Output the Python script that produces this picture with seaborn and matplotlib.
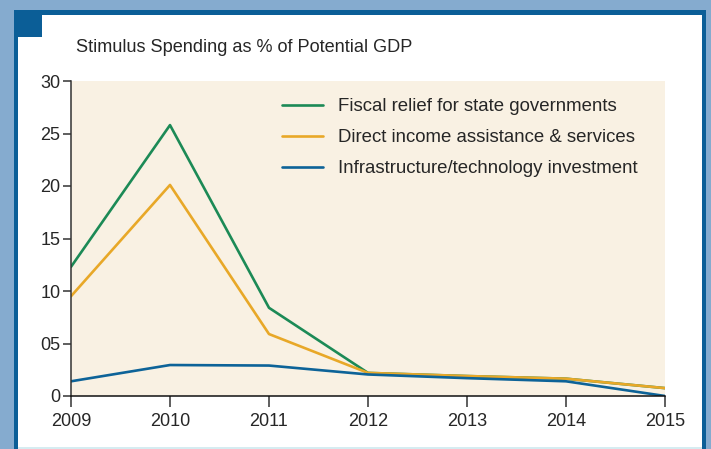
import matplotlib
matplotlib.use('Agg')
import matplotlib.pyplot as plt
from matplotlib.patches import Rectangle
import seaborn as sns
import pandas as pd

# Данные
years = [2009, 2010, 2011, 2012, 2013, 2014, 2015]
fiscal_relief = [12.3, 25.8, 8.4, 2.2, 1.9, 1.65, 0.75]
direct_income = [9.5, 20.1, 5.9, 2.2, 1.9, 1.65, 0.75]
infrastructure = [1.4, 2.95, 2.9, 2.05, 1.7, 1.4, 0.0]

series_names = ['Fiscal relief for state governments',
                'Direct income assistance & services',
                'Infrastructure/technology investment']
y_ticks = [0, 5, 10, 15, 20, 25, 30]
y_tick_labels = ['0', '05', '10', '15', '20', '25', '30']
title = 'Stimulus Spending as % of Potential GDP'

colors = {series_names[0]: '#1c8a56',
          series_names[1]: '#e8a828',
          series_names[2]: '#0d6398'}

rows = []
for name, vals in zip(series_names, [fiscal_relief, direct_income, infrastructure]):
    for yr, v in zip(years, vals):
        rows.append({'year': yr, 'value': v, 'series': name})
df = pd.DataFrame(rows)

sns.set_style('ticks')
plt.rcParams['font.family'] = ['Liberation Sans', 'DejaVu Sans']

W, H = 711, 449
fig = plt.figure(figsize=(W / 100, H / 100), dpi=100)
fig.patch.set_facecolor('#85abcf')


def box(x0, y0, x1, y1, color, z=0):
    # прямоугольник в пикселях (начало отсчёта сверху слева)
    r = Rectangle((x0 / W, 1 - y1 / H), (x1 - x0) / W, (y1 - y0) / H,
                  transform=fig.transFigure, facecolor=color,
                  edgecolor='none', zorder=z)
    fig.add_artist(r)


box(14, 10, 706, 449, '#0b5e97', -10)
box(18, 15, 702, 447, 'white', -9)
box(18, 447, 702, 449, '#d6ecf1', -9)
box(14, 10, 42, 37, '#0b5e97', -8)

ax = fig.add_axes([71 / W, 1 - 396 / H, (665 - 71) / W, (396 - 81) / H])
ax.set_facecolor('#f9f1e3')

sns.lineplot(data=df, x='year', y='value', hue='series', palette=colors,
             hue_order=series_names, linewidth=1.9, ax=ax)

ax.set_xlim(2009, 2015)
ax.set_ylim(0, 30)
ax.set_xticks(years)
ax.set_xticklabels([str(y) for y in years])
ax.set_yticks(y_ticks)
ax.set_yticklabels(y_tick_labels)
ax.set_xlabel('')
ax.set_ylabel('')
ax.tick_params(axis='x', length=8, width=1.1, pad=4, labelsize=13, color='#333333')
ax.tick_params(axis='y', length=5.5, width=1.1, pad=2, labelsize=13, color='#333333')
for s in ['top', 'right']:
    ax.spines[s].set_visible(False)
ax.spines['left'].set_color('#333333')
ax.spines['bottom'].set_color('#111111')
ax.spines['left'].set_linewidth(1.1)
ax.spines['bottom'].set_linewidth(1.1)

leg = ax.legend(loc='upper left', bbox_to_anchor=(0.355, 0.946), frameon=False,
                fontsize=13.4, handlelength=2.2, handletextpad=0.8,
                labelspacing=0.76, borderpad=0, borderaxespad=0)
for line in leg.get_lines():
    line.set_linewidth(1.9)

fig.text(76 / W, 1 - 51.5 / H, title, fontsize=13.1, va='baseline', ha='left')

fig.savefig('out.png', dpi=100, facecolor=fig.get_facecolor())
